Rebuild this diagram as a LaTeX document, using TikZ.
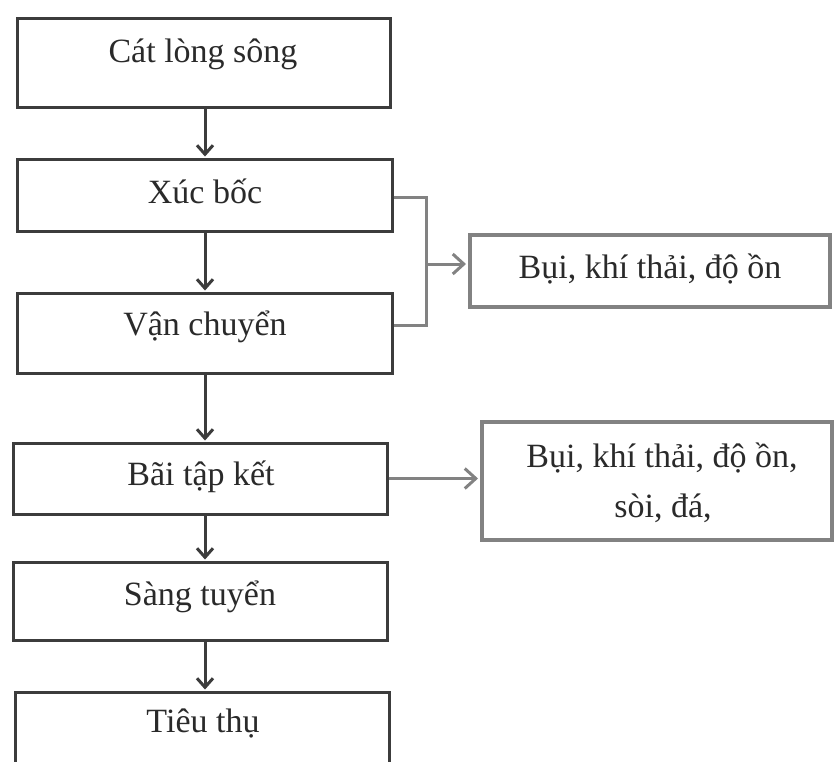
\documentclass[tikz,border=0pt]{standalone}
\usepackage{fontspec}
\setmainfont{Liberation Serif}
\usetikzlibrary{arrows.meta}
\definecolor{boxc}{HTML}{3C3C3C}
\definecolor{gboxc}{HTML}{828282}
\definecolor{txtc}{HTML}{2A2A2A}
\begin{document}
\begin{tikzpicture}[x=1pt,y=-1pt,
  box/.style={draw=boxc, line width=3pt, inner sep=0pt},
  gbox/.style={draw=gboxc, line width=4pt, inner sep=0pt},
  lbl/.style={anchor=base, text=txtc, font=\fontsize{34}{50}\selectfont, inner sep=0pt},
  darr/.style={draw=boxc, line width=3pt, -{Straight Barb[length=9pt,width=16pt]}, shorten >=1pt},
  garr/.style={draw=gboxc, line width=3pt, -{Straight Barb[length=11pt,width=20pt]}, shorten >=2pt},
  bracket/.style={draw=gboxc, line width=3pt}]
\useasboundingbox (0,0) rectangle (834,761);
\fill[white] (0,0) rectangle (834,761);
\clip (0,0) rectangle (834,761);

% main column boxes
\node[box, minimum width=373pt, minimum height=89pt] (B1) at (203.5,62.5) {};
\node[box, minimum width=375pt, minimum height=72pt] (B2) at (204.5,195) {};
\node[box, minimum width=375pt, minimum height=80pt] (B3) at (204.5,333) {};
\node[box, minimum width=374pt, minimum height=71pt] (B4) at (200,478.5) {};
\node[box, minimum width=374pt, minimum height=78pt] (B5) at (200,601) {};
\node[box, minimum width=374pt, minimum height=98pt] (B6) at (202,741) {};

% side boxes
\node[gbox, minimum width=360pt, minimum height=72pt] (A) at (650,271) {};
\node[gbox, minimum width=350pt, minimum height=118pt] (B) at (657,481) {};

% labels
\node[lbl] (t1) at (203,62) {Cát lòng sông};
\node[lbl] (t2) at (205,203) {Xúc bốc};
\node[lbl] (t3) at (205,335) {Vận chuyển};
\node[lbl] (t4) at (201,485) {Bãi tập kết};
\node[lbl] (t5) at (200,605) {Sàng tuyển};
\node[lbl] (t6) at (203,732) {Tiêu thụ};
\node[lbl] (tA) at (650,278) {Bụi, khí thải, độ ồn};
\node[lbl] (tB1) at (662,467) {Bụi, khí thải, độ ồn,};
\node[lbl] (tB2) at (663,517) {sòi, đá,};

% down arrows
\coordinate (ax) at (205,0);
\draw[darr] (B1.south -| ax) -- (B2.north -| ax);
\draw[darr] (B2.south -| ax) -- (B3.north -| ax);
\draw[darr] (B3.south -| ax) -- (B4.north -| ax);
\draw[darr] (B4.south -| ax) -- (B5.north -| ax);
\draw[darr] (B5.south -| ax) -- (B6.north -| ax);

% bracket and side arrows
\coordinate (j) at (426,264);
\draw[bracket] ([yshift=-2pt]B2.east) -| (j) |- ([yshift=8pt]B3.east);
\draw[garr] (j) -- (j -| A.west);
\draw[garr] (B4.east) -- (B4.east -| B.west);
\end{tikzpicture}
\end{document}
